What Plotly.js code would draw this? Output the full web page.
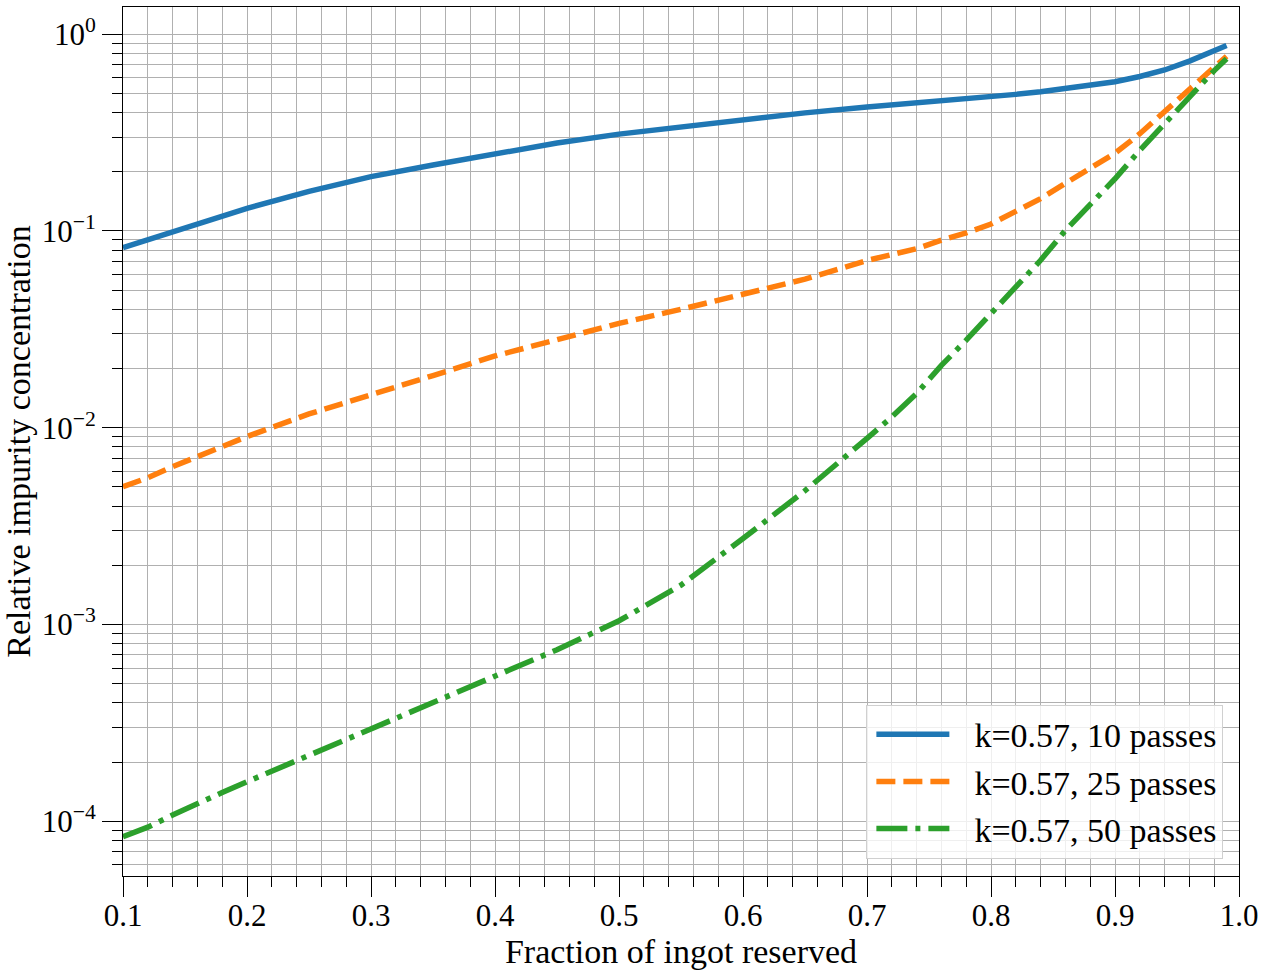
<!DOCTYPE html>
<html>
<head>
<meta charset="utf-8">
<script src="https://cdn.plot.ly/plotly-3.0.1.min.js"></script>
<style>
  html, body { margin: 0; padding: 0; background: #fff; }
  #myPlot { width: 1266px; height: 972px; }
</style>
</head>
<body>
<div id="myPlot"></div>
<script>
// fraction of ingot (shared by the three curves)
var xFrac = [0.10, 0.12, 0.14, 0.16, 0.18, 0.20, 0.25, 0.30, 0.35, 0.40, 0.45, 0.50,
  0.55, 0.60, 0.65, 0.70, 0.72, 0.74, 0.76, 0.78, 0.80, 0.82, 0.84, 0.86, 0.88,
  0.90, 0.92, 0.94, 0.96, 0.98, 0.99];

// relative impurity concentration
var c10 = [0.0822, 0.0899, 0.0993, 0.1086, 0.1191, 0.1303, 0.1589, 0.1888, 0.2163, 0.2460,
  0.2799, 0.3105, 0.3373, 0.3681, 0.3981, 0.4266, 0.4365, 0.4477, 0.4592, 0.4699,
  0.4808, 0.4943, 0.5093, 0.5284, 0.5495, 0.5728, 0.6095, 0.6577, 0.7295, 0.8185, 0.8750];
var c25 = [0.00501, 0.00557, 0.00634, 0.00710, 0.00794, 0.00902, 0.01175, 0.01462, 0.01841,
  0.02317, 0.02818, 0.03388, 0.03999, 0.04753, 0.05689, 0.07079, 0.07603, 0.08128, 0.08974,
  0.09772, 0.1084, 0.1250, 0.1459, 0.1746, 0.2089, 0.2483, 0.3119, 0.4027, 0.5188, 0.6761, 0.7727];
var c50 = [8.356e-5, 9.333e-5, 1.076e-4, 1.233e-4, 1.400e-4, 1.589e-4, 2.163e-4, 2.944e-4,
  3.999e-4, 5.420e-4, 7.447e-4, 1.045e-3, 1.585e-3, 2.735e-3, 4.786e-3, 8.831e-3, 0.01135,
  0.01493, 0.02075, 0.02786, 0.03802, 0.05129, 0.07096, 0.1007, 0.1365, 0.1841, 0.2570,
  0.3508, 0.4842, 0.6531, 0.7499];

var seriesNames = ['k=0.57, 10 passes', 'k=0.57, 25 passes', 'k=0.57, 50 passes'];

var yMajorVals = [1e-4, 1e-3, 1e-2, 1e-1, 1];
var yMajorText = ['10<sup>\u22124</sup>', '10<sup>\u22123</sup>', '10<sup>\u22122</sup>',
  '10<sup>\u22121</sup>', '10<sup>0</sup>'];
var xMajorVals = [0.1, 0.2, 0.3, 0.4, 0.5, 0.6, 0.7, 0.8, 0.9, 1.0];
var xMajorText = ['0.1', '0.2', '0.3', '0.4', '0.5', '0.6', '0.7', '0.8', '0.9', '1.0'];

// minor ticks: 2..9 in each decade, and every 0.02 on x
var yMinorVals = [];
for (let e = -5; e <= 0; e++) {
  for (let m = 2; m <= 9; m++) {
    yMinorVals.push(m * Math.pow(10, e));
  }
}
var xMinorVals = [];
for (let i = 5; i <= 50; i++) {
  if (i % 5 != 0) xMinorVals.push(i * 0.02);
}

var gridColor = '#b0b0b0';

var traces = [
  {x: xFrac, y: c10, mode: 'lines', name: seriesNames[0],
   line: {color: '#1f77b4', width: 5.5}},
  {x: xFrac, y: c25, mode: 'lines', name: seriesNames[1],
   line: {color: '#ff7f0e', width: 5.5, dash: '19px,8px'}},
  {x: xFrac, y: c50, mode: 'lines', name: seriesNames[2],
   line: {color: '#2ca02c', width: 5.5, dash: '31px,8px,5px,8px'}}
];

var layout = {
  width: 1266, height: 972,
  paper_bgcolor: '#ffffff', plot_bgcolor: '#ffffff',
  font: {family: 'Liberation Serif, serif', size: 31, color: '#000'},
  margin: {l: 123, r: 27, t: 7, b: 96, pad: 0},
  showlegend: true,
  legend: {
    x: 0.986, xanchor: 'right', y: 0.02, yanchor: 'bottom',
    bgcolor: 'rgba(255,255,255,0.8)', bordercolor: '#d0d0d0', borderwidth: 1,
    font: {size: 34}, itemwidth: 97
  },
  xaxis: {
    range: [0.1, 1.0], tickmode: 'array', tickvals: xMajorVals, ticktext: xMajorText,
    ticks: 'outside', ticklen: 20, tickwidth: 1, tickcolor: '#000',
    ticklabelstandoff: -8,
    showline: true, linecolor: '#000', linewidth: 1, mirror: true,
    showgrid: true, gridcolor: gridColor, gridwidth: 1, zeroline: false,
    minor: {tickvals: xMinorVals, ticks: 'outside', ticklen: 10, tickcolor: '#000',
            showgrid: true, gridcolor: gridColor, gridwidth: 1},
    title: {text: 'Fraction of ingot reserved', font: {size: 34}, standoff: 2}
  },
  yaxis: {
    type: 'log', range: [-4.278, 0.138], tickmode: 'array',
    tickvals: yMajorVals, ticktext: yMajorText,
    ticks: 'outside', ticklen: 20, tickwidth: 1, tickcolor: '#000',
    showline: true, linecolor: '#000', linewidth: 1, mirror: true,
    showgrid: true, gridcolor: gridColor, gridwidth: 1, zeroline: false,
    minor: {tickvals: yMinorVals, ticks: 'outside', ticklen: 10, tickcolor: '#000',
            showgrid: true, gridcolor: gridColor, gridwidth: 1},
    title: {text: 'Relative impurity concentration', font: {size: 34}, standoff: 4}
  }
};

Plotly.newPlot('myPlot', traces, layout, {displayModeBar: false, staticPlot: true})
  .then(function () {
    // longer line samples in the legend, like the original
    document.querySelectorAll('#myPlot .legendlines path').forEach(function (p) {
      p.setAttribute('d', 'M9,0h73');
    });
  });
</script>
</body>
</html>
